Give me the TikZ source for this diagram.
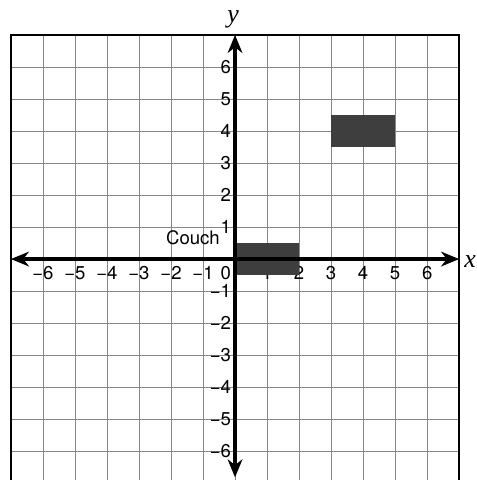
\documentclass[tikz,border=0pt]{standalone}
\usepackage{fontspec}
\setmainfont{TeX Gyre Heros}
\newfontfamily\axisfont{Liberation Serif}
\usetikzlibrary{arrows.meta}
\definecolor{gridgray}{RGB}{135,135,135}
\definecolor{blockgray}{RGB}{62,62,62}
\tikzset{
  axis/.style={line width=3.5pt,{Stealth[length=16pt,width=13pt,inset=5pt]}-{Stealth[length=16pt,width=13pt,inset=5pt]}},
  gridline/.style={draw=gridgray,line width=0.7pt},
  frame/.style={line width=2.2pt},
  block/.style={fill=blockgray},
  ticklabel/.style={font=\fontsize{16.5}{18}\selectfont,inner sep=0pt},
  axislabel/.style={font=\axisfont\itshape\fontsize{23}{24}\selectfont,inner sep=0pt},
}
\begin{document}
\begin{tikzpicture}
  \useasboundingbox (-7.34,-6.9) rectangle (7.53,8.09);
  % grid
  \foreach \k in {-6,...,6} {
    \draw[gridline] (\k,-7) -- (\k,7);
    \draw[gridline] (-7,\k) -- (7,\k);
  }
  \draw[frame] (-7,-7) -- (-7,7) -- (7,7) -- (7,-7);
  % numbers
  \foreach \k in {1,...,6} {
    \node[ticklabel,anchor=north] (xp\k) at (\k,-0.22) {\k};
    \node[ticklabel,anchor=north] (xn\k) at (-\k,-0.22) {−\k};
    \node[ticklabel,anchor=east] (yp\k) at (-0.12,\k) {\k};
    \node[ticklabel,anchor=east] (yn\k) at (-0.12,-\k) {−\k};
  }
  \node[ticklabel,anchor=north east] (zero) at (-0.12,-0.22) {0};
  \node[ticklabel,anchor=base east] (couch) at (-0.47,0.44) {Couch};
  % blocks
  \fill[block] (0,-0.5) rectangle (2,0.5);
  \fill[block] (3,3.5) rectangle (5,4.5);
  % axes
  \coordinate (xl) at (-7,0);
  \coordinate (xr) at (7,0);
  \coordinate (yb) at (0,-6.82);
  \coordinate (yt) at (0,7);
  \draw[axis] (xl) -- (xr);
  \draw[axis] (yb) -- (yt);
  \node[axislabel] (xlab) at (7.34,-0.09) {x};
  \node[axislabel] (ylab) at (-0.06,7.47) {y};
\end{tikzpicture}
\end{document}
